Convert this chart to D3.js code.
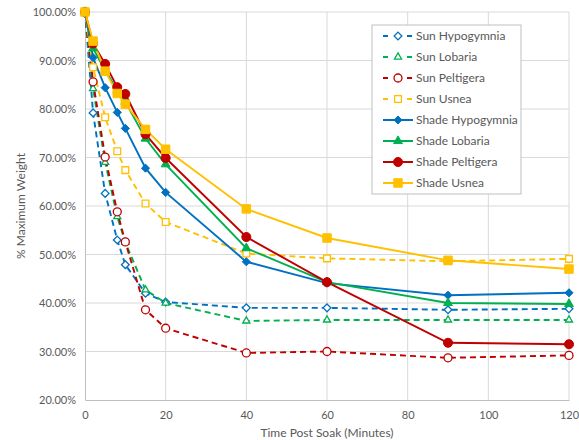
<!DOCTYPE html>
<html>
<head>
<meta charset="utf-8">
<script src="https://cdn.jsdelivr.net/npm/d3@7"></script>
<style>
  body { margin: 0; background: #fff; }
  text { font-family: Lato, "Open Sans", sans-serif; fill: #595959; }
</style>
</head>
<body>
<div id="chart"></div>
<script>
// --- Data ---
const minutes = [0, 2, 5, 8, 10, 15, 20, 40, 60, 90, 120];

const sunHypogymnia = [100, 79.2, 62.6, 53.0, 47.9, 42.0, 40.2, 39.0, 39.0, 38.6, 38.8];
const sunLobaria = [100, 84.2, 69.0, 57.8, 52.5, 42.7, 40.0, 36.3, 36.5, 36.5, 36.5];
const sunPeltigera = [100, 85.6, 70.1, 58.8, 52.6, 38.6, 34.8, 29.7, 30.0, 28.7, 29.2];
const sunUsnea = [100, 88.6, 78.3, 71.3, 67.4, 60.5, 56.7, 50.2, 49.2, 48.6, 49.1];
const shadeHypogymnia = [100, 90.6, 84.4, 79.3, 76.0, 67.8, 62.8, 48.5, 44.1, 41.6, 42.1];
const shadeLobaria = [100, 92.5, 88.0, 83.8, 81.5, 73.9, 68.6, 51.3, 44.3, 40.0, 39.8];
const shadePeltigera = [100, 93.5, 89.3, 84.5, 83.1, 74.8, 69.9, 53.6, 44.3, 31.8, 31.5];
const shadeUsnea = [100, 94.0, 87.8, 83.2, 81.0, 75.8, 71.7, 59.4, 53.4, 48.8, 47.0];

const xTicks = [0, 20, 40, 60, 80, 100, 120];
const yTicks = [20, 30, 40, 50, 60, 70, 80, 90, 100];

const series = [
  { name: "Sun Hypogymnia", values: sunHypogymnia, color: "#0070C0", dashed: true, symbol: d3.symbolDiamond2, filled: false, size: 38 },
  { name: "Sun Lobaria", values: sunLobaria, color: "#00B050", dashed: true, symbol: d3.symbolTriangle2, filled: false, size: 36 },
  { name: "Sun Peltigera", values: sunPeltigera, color: "#C00000", dashed: true, symbol: d3.symbolCircle, filled: false, size: 50 },
  { name: "Sun Usnea", values: sunUsnea, color: "#FFC000", dashed: true, symbol: d3.symbolSquare2, filled: false, size: 58 },
  { name: "Shade Hypogymnia", values: shadeHypogymnia, color: "#0070C0", dashed: false, symbol: d3.symbolDiamond2, filled: true, size: 42 },
  { name: "Shade Lobaria", values: shadeLobaria, color: "#00B050", dashed: false, symbol: d3.symbolTriangle, filled: true, size: 34 },
  { name: "Shade Peltigera", values: shadePeltigera, color: "#C00000", dashed: false, symbol: d3.symbolCircle, filled: true, size: 64 },
  { name: "Shade Usnea", values: shadeUsnea, color: "#FFC000", dashed: false, symbol: d3.symbolSquare, filled: true, size: 72 },
];

// --- Layout ---
const width = 579, height = 440;
const margin = { top: 12, right: 10, bottom: 40, left: 85 };

const svg = d3.select("#chart").append("svg")
  .attr("width", width)
  .attr("height", height);

const x = d3.scaleLinear().domain([0, 120]).range([margin.left, width - margin.right]);
const y = d3.scaleLinear().domain([20, 100]).range([height - margin.bottom, margin.top]);

// Gridlines
svg.append("g")
  .selectAll("line.h")
  .data(yTicks.slice(1))
  .join("line")
  .attr("x1", x(0)).attr("x2", x(120))
  .attr("y1", (d) => y(d)).attr("y2", (d) => y(d))
  .attr("stroke", "#d9d9d9");

svg.append("g")
  .selectAll("line.v")
  .data(xTicks.slice(1))
  .join("line")
  .attr("x1", (d) => x(d)).attr("x2", (d) => x(d))
  .attr("y1", y(20)).attr("y2", y(100))
  .attr("stroke", "#d9d9d9");

// Axes
const xAxis = svg.append("g")
  .attr("transform", `translate(0,${y(20)})`)
  .call(d3.axisBottom(x).tickValues(xTicks).tickSize(0).tickPadding(11));
const yAxis = svg.append("g")
  .attr("transform", `translate(${x(0)},0)`)
  .call(d3.axisLeft(y).tickValues(yTicks).tickSize(0).tickPadding(9).tickFormat((d) => d.toFixed(2) + "%"));

[xAxis, yAxis].forEach((g) => {
  g.select(".domain").attr("stroke", "#bfbfbf");
  g.selectAll("text").attr("fill", "#595959").attr("font-size", "11px").style("font-family", "Lato, 'Open Sans', sans-serif");
});

// Axis titles
svg.append("text")
  .attr("x", (x(0) + x(120)) / 2)
  .attr("y", 437)
  .attr("text-anchor", "middle")
  .attr("font-size", "12px")
  .text("Time Post Soak (Minutes)");

svg.append("text")
  .attr("transform", `translate(25,${(y(20) + y(100)) / 2}) rotate(-90)`)
  .attr("text-anchor", "middle")
  .attr("font-size", "12px")
  .text("% Maximum Weight");

// Lines + markers
const line = d3.line()
  .x((d, i) => x(minutes[i]))
  .y((d) => y(d));

const plot = svg.append("g");

series.forEach((s) => {
  plot.append("path")
    .datum(s.values)
    .attr("fill", "none")
    .attr("stroke", s.color)
    .attr("stroke-width", 1.9)
    .attr("stroke-dasharray", s.dashed ? "6,4" : null)
    .attr("d", line);
});

series.forEach((s) => {
  const sym = d3.symbol().type(s.symbol).size(s.size);
  plot.append("g")
    .selectAll("path")
    .data(s.values)
    .join("path")
    .attr("transform", (d, i) => `translate(${x(minutes[i])},${y(d)})`)
    .attr("d", sym)
    .attr("fill", s.filled ? s.color : "#fff")
    .attr("stroke", s.color)
    .attr("stroke-width", s.filled ? 1 : 1.3);
});

// Legend
const legend = svg.append("g").attr("transform", "translate(372,25)");
legend.append("rect")
  .attr("width", 149).attr("height", 169)
  .attr("fill", "#fff")
  .attr("stroke", "#bfbfbf");

const items = legend.selectAll("g.item")
  .data(series)
  .join("g")
  .attr("transform", (d, i) => `translate(0,${11 + i * 21})`);

items.append("line")
  .attr("x1", 11).attr("x2", 41)
  .attr("stroke", (d) => d.color)
  .attr("stroke-width", 2)
  .attr("stroke-dasharray", (d) => d.dashed ? "5,7" : null);

items.append("path")
  .attr("transform", "translate(26,0)")
  .attr("d", (d) => d3.symbol().type(d.symbol).size(d.size)())
  .attr("fill", (d) => d.filled ? d.color : "#fff")
  .attr("stroke", (d) => d.color)
  .attr("stroke-width", (d) => d.filled ? 1 : 1.3);

items.append("text")
  .attr("x", 44)
  .attr("dy", "0.35em")
  .attr("font-size", "12px")
  .text((d) => d.name);
</script>
</body>
</html>
